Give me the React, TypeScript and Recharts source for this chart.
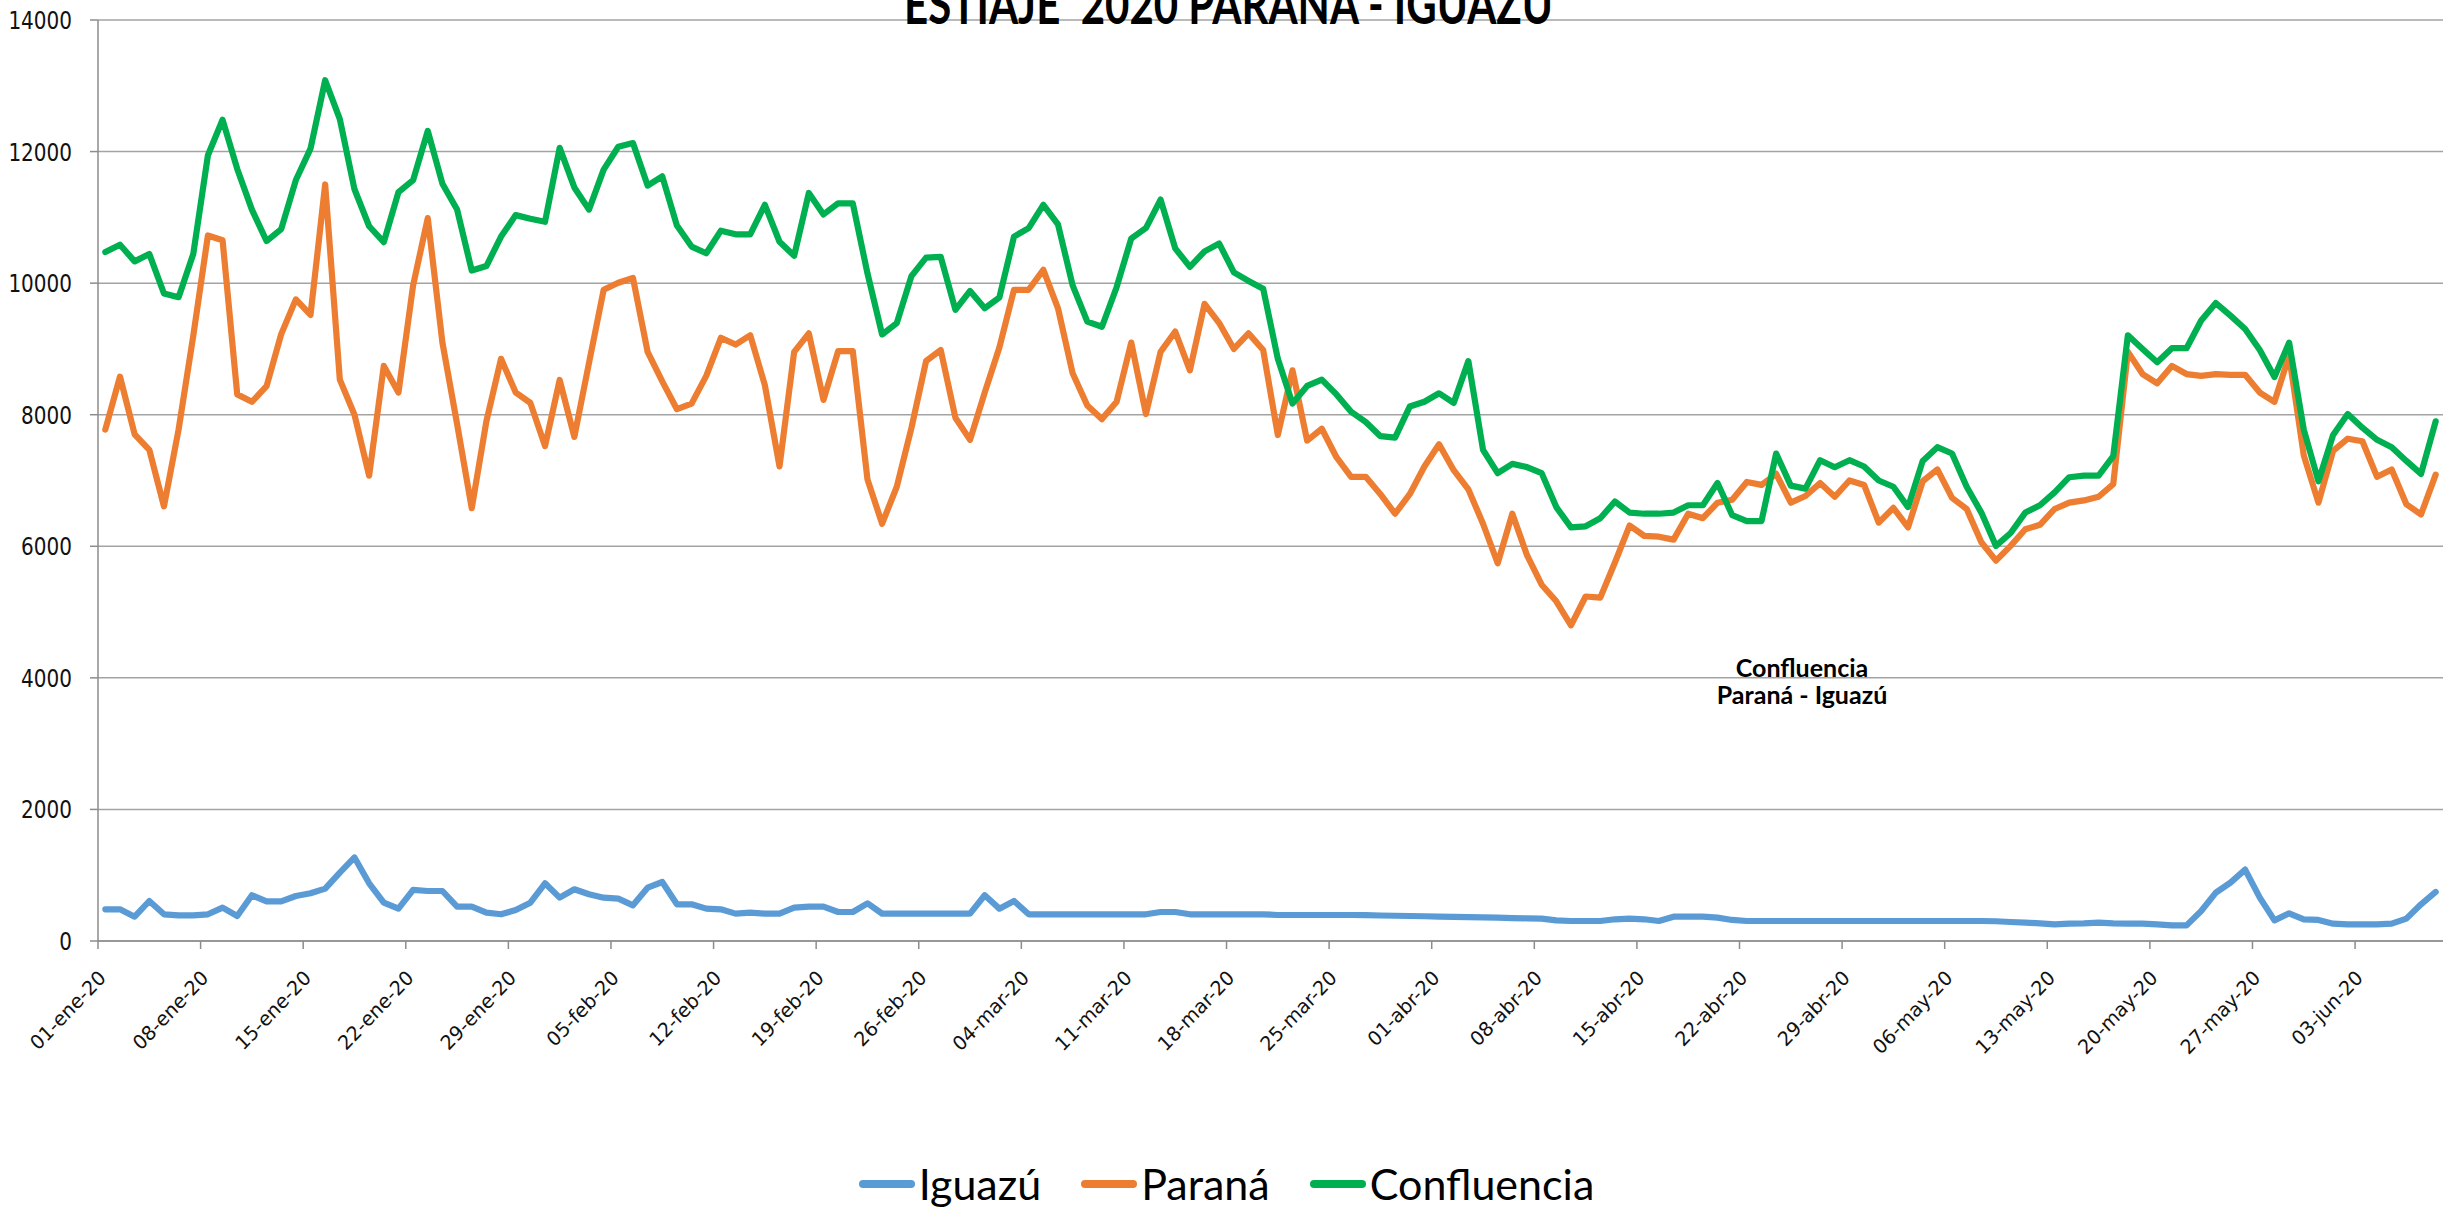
import { LineChart, Line, XAxis, YAxis, CartesianGrid } from "recharts";

const MESES = ["ene", "feb", "mar", "abr", "may", "jun"];
const DIAS_MES = [31, 29, 31, 30, 31, 30];

const iguazu = [
  482, 482, 370, 608, 406, 390, 390, 406, 507, 380, 695, 603, 603, 684, 725, 796, 1039, 1270, 877, 583,
  492, 776, 760, 760, 522, 522, 431, 406, 471, 583, 877, 659, 786, 710, 659, 644, 542, 811, 897, 558,
  558, 492, 482, 416, 431, 416, 416, 507, 522, 522, 441, 441, 573, 416, 416, 416, 416, 416, 416, 416,
  695, 492, 608, 406, 406, 406, 406, 406, 406, 406, 406, 406, 441, 441, 406, 406, 406, 406, 406, 406,
  395, 395, 395, 395, 395, 395, 392, 388, 384, 380, 376, 372, 367, 363, 358, 354, 349, 345, 340, 314,
  304, 304, 304, 330, 340, 330, 304, 370, 370, 370, 355, 320, 304, 304, 304, 304, 304, 304, 304, 304,
  304, 304, 304, 304, 304, 304, 304, 304, 304, 300, 289, 279, 269, 253, 264, 269, 279, 269, 264, 264,
  253, 238, 238, 456, 735, 887, 1085, 659, 314, 421, 330, 320, 264, 253, 253, 253, 264, 340, 558, 745,
];

const parana = [
  7775, 8579, 7702, 7466, 6607, 7775, 9200, 10725, 10652, 8309, 8197, 8433, 9225, 9753, 9517, 11500, 8534, 8000, 7073, 8742,
  8337, 9966, 10989, 9096, 7860, 6579, 7900, 8850, 8337, 8180, 7523, 8528, 7663, 8786, 9899, 10006, 10079, 8955, 8506, 8084,
  8169, 8590, 9169, 9067, 9208, 8450, 7214, 8955, 9236, 8225, 8967, 8967, 7017, 6343, 6905, 7798, 8815, 8983, 7955, 7618,
  8337, 9022, 9899, 9899, 10202, 9618, 8629, 8140, 7933, 8197, 9096, 8011, 8955, 9264, 8674, 9685, 9393, 9000, 9236, 8983,
  7691, 8674, 7607, 7787, 7354, 7056, 7056, 6792, 6495, 6792, 7213, 7551, 7157, 6865, 6343, 5742, 6495, 5865, 5416, 5164,
  4798, 5237, 5220, 5753, 6315, 6158, 6146, 6101, 6495, 6427, 6663, 6708, 6978, 6933, 7101, 6663, 6764, 6961, 6753, 7000,
  6933, 6360, 6584, 6287, 6989, 7168, 6736, 6568, 6062, 5781, 6006, 6259, 6326, 6567, 6663, 6697, 6753, 6944, 8955, 8618,
  8478, 8742, 8618, 8590, 8618, 8607, 8607, 8337, 8197, 8899, 7382, 6663, 7449, 7635, 7596, 7056, 7168, 6640, 6483, 7090,
];

const confluencia = [
  10472, 10584, 10331, 10444, 9843, 9787, 10444, 11944, 12483, 11736, 11118, 10640, 10820, 11567, 12045, 13084, 12494, 11427, 10865, 10624,
  11382, 11567, 12315, 11511, 11118, 10191, 10260, 10708, 11034, 10978, 10933, 12056, 11455, 11118, 11725, 12073, 12129, 11483, 11624, 10876,
  10556, 10455, 10798, 10742, 10742, 11191, 10629, 10416, 11371, 11045, 11213, 11213, 10150, 9220, 9393, 10107, 10388, 10399, 9595, 9882,
  9618, 9781, 10708, 10837, 11191, 10893, 9966, 9416, 9337, 9938, 10680, 10837, 11270, 10528, 10247, 10483, 10601, 10163, 10034, 9915,
  8850, 8169, 8438, 8534, 8309, 8045, 7888, 7674, 7652, 8124, 8197, 8326, 8180, 8815, 7466, 7112, 7253, 7203, 7112, 6596,
  6287, 6304, 6427, 6680, 6512, 6495, 6495, 6512, 6624, 6624, 6961, 6472, 6382, 6382, 7410, 6922, 6877, 7309, 7202, 7309,
  7213, 7000, 6905, 6596, 7298, 7506, 7410, 6905, 6512, 6006, 6202, 6512, 6624, 6820, 7050, 7073, 7073, 7371, 9208, 9000,
  8798, 9011, 9011, 9433, 9697, 9506, 9303, 8983, 8573, 9096, 7775, 6989, 7691, 8011, 7803, 7618, 7506, 7298, 7101, 7899,
];

const yTicks = [0, 2000, 4000, 6000, 8000, 10000, 12000, 14000];

function fecha(dia: number) {
  let d = Math.floor(dia);
  let m = 0;
  while (m < DIAS_MES.length - 1 && d >= DIAS_MES[m]) {
    d -= DIAS_MES[m];
    m++;
  }
  return `${String(d + 1).padStart(2, "0")}-${MESES[m]}-20`;
}

const nDias = confluencia.length;
const semanas = confluencia.map((_, i) => i).filter((i) => i % 7 === 0);

const data = confluencia.map((_, i) => ({
  dia: i + 0.5,
  fecha: fecha(i),
  iguazu: iguazu[i],
  parana: parana[i],
  confluencia: confluencia[i],
}));

const series = [
  { key: "iguazu", name: "Iguazú", color: "#5B9BD5" },
  { key: "parana", name: "Paraná", color: "#ED7D31" },
  { key: "confluencia", name: "Confluencia", color: "#00B050" },
];

const AXIS_FONT = "'DejaVu Sans', Verdana, sans-serif";
const TEXT_FONT = "Lato, 'Open Sans', sans-serif";

function YTick({ x, y, payload }: any) {
  return (
    <text
      transform={`translate(${x - 16},${y}) scale(1,1.25)`}
      textAnchor="end"
      dy="0.36em"
      fontSize={20}
      fontFamily={AXIS_FONT}
      fill="#111"
    >
      {payload.value}
    </text>
  );
}

function XTick({ x, y, payload }: any) {
  return (
    <text
      transform={`translate(${x + 9},${y + 28}) scale(1,1.05) rotate(-45)`}
      textAnchor="end"
      fontSize={19}
      fontFamily={AXIS_FONT}
      fill="#111"
    >
      {fecha(payload.value)}
    </text>
  );
}

export default function App() {
  return (
    <div style={{ position: "absolute", left: 0, top: 0, width: 2453, height: 1209, background: "#fff", overflow: "hidden" }}>
      <LineChart
        width={2453}
        height={1209}
        data={data}
        margin={{ top: 20, right: 10, bottom: 168, left: 8 }}
      >
        <CartesianGrid vertical={false} stroke="#a3a3a3" strokeWidth={1.5} />
        <XAxis
          type="number"
          dataKey="dia"
          domain={[0, nDias]}
          ticks={semanas}
          interval={0}
          height={100}
          stroke="#8c8c8c"
          strokeWidth={1.5}
          tickSize={8}
          tick={<XTick />}
        />
        <YAxis
          domain={[0, 14000]}
          ticks={yTicks}
          width={90}
          stroke="#8c8c8c"
          strokeWidth={1.5}
          tickSize={8}
          tick={<YTick />}
        />
        {series.map((s) => (
          <Line
            key={s.key}
            type="linear"
            dataKey={s.key}
            name={s.name}
            stroke={s.color}
            strokeWidth={6.2}
            strokeLinejoin="round"
            strokeLinecap="round"
            dot={false}
            isAnimationActive={false}
          />
        ))}
      </LineChart>

      {/* title, cut off by the top edge like in the source */}
      <div
        style={{
          position: "absolute",
          left: 0,
          width: 2453,
          top: -22,
          textAlign: "center",
          fontFamily: TEXT_FONT,
          fontWeight: 700,
          fontSize: 42,
          lineHeight: "50px",
          color: "#000",
          transform: "translateX(2px) scaleY(1.3)",
          whiteSpace: "pre",
        }}
      >
        {"ESTIAJE  2020 PARANÁ - IGUAZÚ"}
      </div>

      <div
        style={{
          position: "absolute",
          left: 1652,
          width: 300,
          top: 654,
          textAlign: "center",
          fontFamily: TEXT_FONT,
          fontWeight: 700,
          fontSize: 25,
          lineHeight: "27px",
          color: "#000",
        }}
      >
        <div>Confluencia</div>
        <div>Paraná - Iguazú</div>
      </div>

      <div
        style={{
          position: "absolute",
          left: 0,
          width: 2453,
          top: 1158,
          display: "flex",
          justifyContent: "center",
          gap: 40,
          fontFamily: TEXT_FONT,
          fontSize: 43,
          lineHeight: "52px",
          color: "#000",
        }}
      >
        {series.map((s) => (
          <div key={s.key} style={{ display: "flex", alignItems: "center" }}>
            <span style={{ display: "inline-block", width: 56, height: 8, borderRadius: 4, background: s.color, marginRight: 4 }} />
            <span>{s.name}</span>
          </div>
        ))}
      </div>
    </div>
  );
}
